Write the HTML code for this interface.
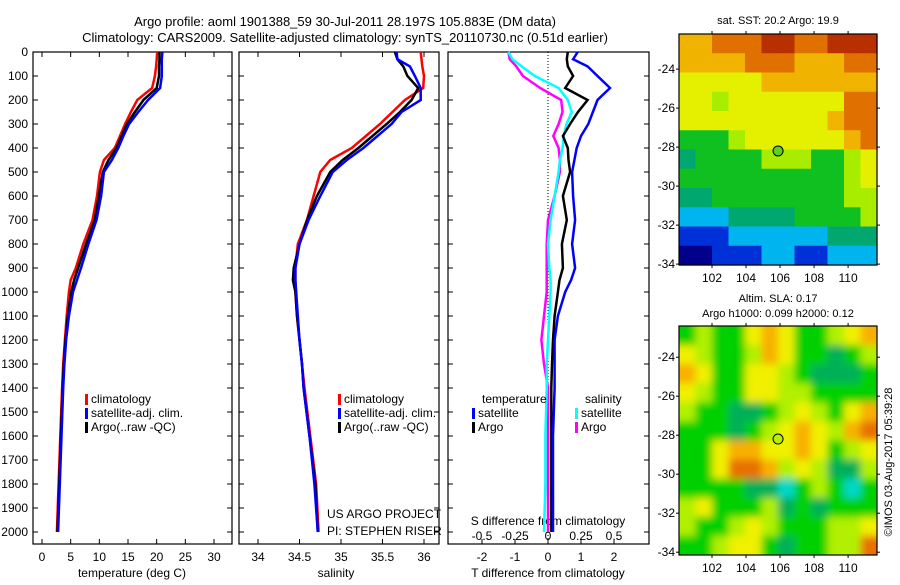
<!DOCTYPE html>
<html><head><meta charset="utf-8"><style>
body{margin:0;background:#fff;}
svg text{font-family:"Liberation Sans",sans-serif;fill:#000;}
</style></head><body>
<svg id="fig" width="900" height="580" viewBox="0 0 900 580" xmlns="http://www.w3.org/2000/svg">
<defs>
<filter id="blur" x="0" y="0" width="1" height="1"><feGaussianBlur stdDeviation="4"/></filter>
<clipPath id="clipB"><rect x="679" y="326" width="198" height="229"/></clipPath>
</defs>
<text x="345" y="26" font-size="13" text-anchor="middle">Argo profile: aoml 1901388_59 30-Jul-2011 28.197S 105.883E (DM data)</text>
<text x="345" y="42" font-size="13" text-anchor="middle">Climatology: CARS2009. Satellite-adjusted climatology: synTS_20110730.nc (0.51d earlier)</text>
<text x="778" y="24" font-size="11" text-anchor="middle">sat. SST: 20.2 Argo: 19.9</text>
<text x="778" y="302" font-size="11" text-anchor="middle">Altim. SLA: 0.17</text>
<text x="778" y="317" font-size="11" text-anchor="middle">Argo h1000: 0.099 h2000: 0.12</text>
<text transform="translate(892,462) rotate(-90)" font-size="11" text-anchor="middle">©IMOS 03-Aug-2017 05:39:28</text>
<g id="plots"></g>
</svg>
<script>
const depths = [0,30,60,100,150,200,250,300,350,400,450,500,600,700,800,900,950,1000,1100,1200,1300,1400,1600,1800,2000];
const tClim = [20.1,20.0,19.9,19.7,19.2,16.6,15.5,14.5,13.6,12.7,10.8,10.1,9.6,8.8,7.2,5.9,5.0,4.7,4.3,4.0,3.7,3.5,3.2,2.9,2.6];
const tSat  = [21.0,20.9,20.9,20.9,20.6,18.5,16.8,15.2,14.2,13.3,12.2,10.8,10.3,9.5,8.1,6.8,6.1,5.4,4.7,4.2,3.9,3.7,3.4,3.1,2.8];
const tArgo = [20.5,20.5,20.4,20.4,20.0,17.7,16.2,14.8,13.9,13.0,11.6,10.6,9.9,9.2,7.7,6.3,5.6,5.1,4.5,4.1,3.8,3.6,3.3,3.0,2.7];
const sClim = [35.96,35.97,35.98,36.0,35.99,35.77,35.62,35.47,35.3,35.13,34.87,34.75,34.67,34.59,34.48,34.45,34.45,34.45,34.47,34.5,34.53,34.56,34.63,34.7,34.73];
const sSat  = [35.67,35.68,35.83,35.89,35.96,35.96,35.73,35.61,35.44,35.27,35.07,34.9,34.75,34.61,34.5,34.45,34.45,34.46,34.48,34.5,34.53,34.55,34.62,34.68,34.72];
const sArgo = [35.65,35.68,35.75,35.8,35.93,35.85,35.71,35.55,35.38,35.21,35.02,34.87,34.71,34.59,34.5,34.43,34.42,34.45,34.47,34.5,34.53,34.55,34.62,34.69,34.72];
const dtSat  = [0.9,0.76,1.2,1.5,1.88,1.5,1.36,1.22,1.0,0.87,0.8,0.73,0.76,0.82,0.73,0.82,0.7,0.52,0.3,0.2,0.2,0.2,0.15,0.15,0.15];
const dtArgo = [0.6,0.57,0.6,0.76,0.52,1.2,0.91,0.67,0.45,0.6,0.62,0.67,0.45,0.57,0.42,0.45,0.35,0.3,0.2,0.15,0.12,0.1,0.1,0.1,0.1];
const dsSat  = [-0.3,-0.27,-0.2,-0.1,0.08,0.15,0.18,0.14,0.12,0.11,0.09,0.08,0.05,0.02,0.0,0.01,0.02,0.02,0.01,0.0,-0.01,-0.01,-0.02,-0.02,-0.03];
const dsArgo = [-0.3,-0.29,-0.24,-0.19,-0.06,0.1,0.11,0.08,0.04,0.08,0.09,0.09,0.05,0.0,-0.01,-0.01,-0.01,-0.01,-0.03,-0.05,-0.03,0.0,0.0,0.0,0.0];
const depthTicks = [0,100,200,300,400,500,600,700,800,900,1000,1100,1200,1300,1400,1500,1600,1700,1800,1900,2000];
const tTicks = [0,5,10,15,20,25,30];
const sTicks = [34,34.5,35,35.5,36];
const dtTicks = [-2,-1,0,1,2];
const dsTicks = [-0.5,-0.25,0,0.25,0.5];
const lats = [-24,-26,-28,-30,-32,-34];
const lons = [102,104,106,108,110];
const sstGrid = [
"778889988999","777788877788","666667777777","665666666688","666666666788",
"444566666678","344445554456","444444444456","334444444455","222333344445",
"111222222333","001112211222"];
const slaGrid = [
"454467644567","654457644345","764466543334","654466554444","544334565467",
"444345676578","446776676456","446887565335","444433245424","564445343444",
"544565444556","445664344558"];
const argoLon = 105.883, argoLat = -28.197;

const NS="http://www.w3.org/2000/svg";
const root=document.getElementById('plots');
function el(tag,attrs,parent){const e=document.createElementNS(NS,tag);for(const k in attrs)e.setAttribute(k,attrs[k]);(parent||root).appendChild(e);return e;}
const Y0=52,Y1=544,DMAX=2050;
const yD=d=>Y0+d/DMAX*(Y1-Y0);
function scale(d0,d1,p0,p1){return v=>p0+(v-d0)/(d1-d0)*(p1-p0);}
const xT=scale(0,30,42,214), xS=scale(34,36,258,424), xDT=scale(-2,2,482,614), xDS=scale(-0.5,0.5,482,614);
const panels=[[33,232],[239,439],[448,649]];

panels.forEach((p,i)=>{
  const r=el('rect',{x:p[0],y:Y0,width:p[1]-p[0],height:Y1-Y0,fill:'none',stroke:'#000','stroke-width':1.2});
  
  
  depthTicks.forEach(d=>{
    el('line',{x1:p[0],x2:p[0]+5,y1:yD(d),y2:yD(d),stroke:'#000'});
    el('line',{x1:p[1],x2:p[1]-5,y1:yD(d),y2:yD(d),stroke:'#000'});
  });
});
depthTicks.forEach(d=>{
  const t=el('text',{x:28,y:yD(d)+4,'font-size':12,'text-anchor':'end'});t.textContent=d;
  
  
});
function xticks(ticks,fx,y,top){
  ticks.forEach(v=>{
    const x=fx(v);
    el('line',{x1:x,x2:x,y1:Y1,y2:Y1-5,stroke:'#000'});
    if(top) el('line',{x1:x,x2:x,y1:Y0,y2:Y0+5,stroke:'#000'});
    const t=el('text',{x:x,y:y,'font-size':12,'text-anchor':'middle'});t.textContent=v;
    
    
  });
}
xticks(tTicks,xT,561,true);
xticks(sTicks,xS,561,true);
xticks(dtTicks,xDT,561,false);
dsTicks.forEach(v=>{const t=el('text',{x:xDS(v),y:540,'font-size':12,'text-anchor':'middle'});t.textContent=String(v);
  
  });
function label(x,y,s,name,anchor){const t=el('text',{x:x,y:y,'font-size':12,'text-anchor':anchor||'middle'});t.textContent=s;
  
  return t;}
label(132,577,'temperature (deg C)','x-axis-title-temperature');
label(336,577,'salinity','x-axis-title-salinity');
label(548,577,'T difference from climatology','x-axis-title-t-diff');
label(548,525,'S difference from climatology','s-diff-axis-title');
label(327,518,'US ARGO PROJECT','project-label','start');
label(327,535,'PI: STEPHEN RISER','pi-label','start');
const z=el('line',{x1:xDT(0),x2:xDT(0),y1:Y0,y2:Y1,stroke:'#000','stroke-dasharray':'1,2'});



function series(vals,fx,color,name){
  const pts=vals.map((v,i)=>fx(v).toFixed(1)+','+yD(depths[i]).toFixed(1)).join(' ');
  const l=el('polyline',{points:pts,fill:'none',stroke:color,'stroke-width':2.5});
  
  
}
series(tClim,xT,'#f00','temp-climatology-line');
series(tArgo,xT,'#000','temp-argo-line');
series(tSat,xT,'#00f','temp-satellite-line');
series(sClim,xS,'#f00','sal-climatology-line');
series(sArgo,xS,'#000','sal-argo-line');
series(sSat,xS,'#00f','sal-satellite-line');
series(dsArgo,xDS,'#f0f','sdiff-argo-line');
series(dsSat,xDS,'#0ff','sdiff-satellite-line');
series(dtArgo,xDT,'#000','tdiff-argo-line');
series(dtSat,xDT,'#00f','tdiff-satellite-line');

function legend(x,y,items,prefix){
  items.forEach((it,i)=>{
    el('rect',{x:x,y:y+i*14-9,width:3,height:11,fill:it[1]});
    const t=el('text',{x:x+6,y:y+i*14,'font-size':12});t.textContent=it[0];
    
    
  });
}
legend(85,403,[['climatology','#f00'],['satellite-adj. clim.','#00f'],['Argo(..raw -QC)','#000']],'temp');
legend(338,403,[['climatology','#f00'],['satellite-adj. clim.','#00f'],['Argo(..raw -QC)','#000']],'sal');
label(482,403,'temperature','tdiff-legend-title','start');
label(585,403,'salinity','sdiff-legend-title','start');
legend(472,417,[['satellite','#00f'],['Argo','#000']],'tdiff');
legend(575,417,[['satellite','#0ff'],['Argo','#f0f']],'sdiff');

const palA=['#00008c','#0030d8','#00b4f0','#00a870','#10c020','#a8ec00','#e4f000','#f0b400','#e07000','#b83000'];
const palB=['#00008c','#0030d8','#00d8c8','#00b058','#00d000','#b0f000','#f0f000','#f8b000','#e87000','#c04000'];
function map(grid,pal,L,T,W,H,latTop,blur,name){
  const g=el('g',{});
  
  
  const inner=blur?el('g',{'clip-path':'url(#clipB)'},g):g;
  const layer=blur?el('g',{filter:'url(#blur)'},inner):inner;
  const rows=grid.length,cols=grid[0].length,cw=W/cols,ch=H/rows;
  const pad=blur?1:0;
  for(let r=-pad;r<rows+pad;r++)for(let c=-pad;c<cols+pad;c++){
    const rr=Math.min(rows-1,Math.max(0,r)),cc=Math.min(cols-1,Math.max(0,c));
    const cell=el('rect',{x:L+c*cw,y:T+r*ch,width:cw+0.6,height:ch+0.6,fill:pal[+grid[rr][cc]]},layer);
    
    
  }
  el('rect',{x:L,y:T,width:W,height:H,fill:'none',stroke:'#000','stroke-width':1.2},g);
  const fx=scale(100.06,111.7,L,L+W), fy=v=>T+(latTop-v)*19.5;
  lats.forEach(v=>{const y=fy(v);el('line',{x1:L-3,x2:L,y1:y,y2:y,stroke:'#000'},g);el('line',{x1:L+W,x2:L+W+3,y1:y,y2:y,stroke:'#000'},g);
    const t=el('text',{x:L-4,y:y+4,'font-size':12,'text-anchor':'end'},g);t.textContent=v;
    
    });
  lons.forEach(v=>{const x=fx(v);el('line',{x1:x,x2:x,y1:T-3,y2:T,stroke:'#000'},g);el('line',{x1:x,x2:x,y1:T+H,y2:T+H+3,stroke:'#000'},g);
    const t=el('text',{x:x,y:T+H+17,'font-size':12,'text-anchor':'middle'},g);t.textContent=v;
    
    });
  const c=el('circle',{cx:fx(argoLon),cy:fy(argoLat),r:5,fill:blur?'#b8f000':'#60d020',stroke:'#000','stroke-width':1},g);
  
  
}
map(sstGrid,palA,679,34,198,231,-22.2,false,'sst-map');
map(slaGrid,palB,679,326,198,229,-22.4,true,'sla-map');
</script>
</body></html>
